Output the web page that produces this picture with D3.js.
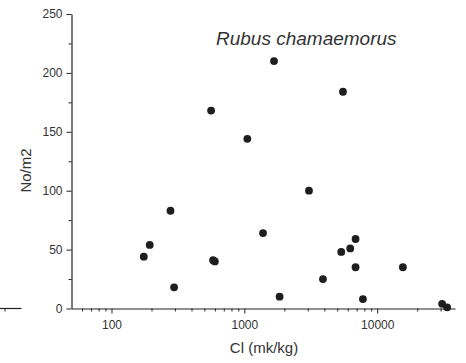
<!DOCTYPE html>
<html>
<head>
<meta charset="utf-8">
<script src="https://cdn.jsdelivr.net/npm/d3@7"></script>
<style>
  body { margin: 0; background: #fff; }
  svg { display: block; }
  text { font-family: "Liberation Sans", Arial, sans-serif; fill: #333; }
</style>
</head>
<body>
<svg id="chart" width="466" height="363"></svg>
<script>
// Data
const clValues = [175, 194, 278, 296, 582, 600, 562, 1672, 5525, 1053, 3064, 1382, 5362, 6264, 6872, 6872, 15600, 3905, 1842, 7805, 30800, 33600];
const densityValues = [44, 54, 83, 18, 41, 40, 168, 210, 184, 144, 100, 64, 48, 51, 59, 35, 35, 25, 10, 8, 4, 1];
const xMajorTicks = [100, 1000, 10000];
const xMinorTicks = [60, 70, 80, 90, 200, 300, 400, 500, 600, 700, 800, 900, 2000, 3000, 4000, 5000, 6000, 7000, 8000, 9000, 20000, 30000];
const yMajorTicks = [0, 50, 100, 150, 200, 250];
const yMinorTicks = [25, 75, 125, 175, 225];
const titleText = "Rubus chamaemorus";
const xLabel = "Cl (mk/kg)";
const yLabel = "No/m2";

const svg = d3.select("#chart");
const x = d3.scaleLog().domain([50, 38500]).range([71.5, 455]);
const y = d3.scaleLinear().domain([0, 250]).range([308.5, 14]);
const axisColor = "#222";

function styleAxis(g) {
  g.selectAll("path").attr("stroke", axisColor).attr("stroke-width", 1.2);
  g.selectAll("line").attr("stroke", axisColor).attr("stroke-width", 1);
  g.selectAll("text").attr("font-size", 12).attr("fill", "#333")
    .attr("font-family", "'Liberation Sans', Arial, sans-serif");
}

// x axis minor
svg.append("g").attr("transform", "translate(0,308.5)")
  .call(d3.axisBottom(x).tickValues(xMinorTicks).tickSize(3).tickFormat(""))
  .call(g => { styleAxis(g); g.select("path").remove(); });
// x axis major
svg.append("g").attr("transform", "translate(0,308.5)")
  .call(d3.axisBottom(x).tickValues(xMajorTicks).tickSize(5).tickSizeOuter(0).tickPadding(7).tickFormat(d3.format("d")))
  .call(styleAxis);

// y axis minor
svg.append("g").attr("transform", "translate(71.5,0)")
  .call(d3.axisLeft(y).tickValues(yMinorTicks).tickSize(3).tickFormat(""))
  .call(g => { styleAxis(g); g.select("path").remove(); });
// y axis major
svg.append("g").attr("transform", "translate(71.5,0)")
  .call(d3.axisLeft(y).tickValues(yMajorTicks).tickSize(5).tickSizeOuter(0).tickPadding(4))
  .call(styleAxis);

// fragment of neighbouring panel axis at far left
svg.append("line").attr("x1", 0).attr("x2", 21.5).attr("y1", 308.5).attr("y2", 308.5)
  .attr("stroke", axisColor).attr("stroke-width", 1.2);
svg.append("line").attr("x1", 5).attr("x2", 5).attr("y1", 308.5).attr("y2", 311.5)
  .attr("stroke", axisColor).attr("stroke-width", 1);

// points
const pts = clValues.map((v, i) => ({ x: v, y: densityValues[i] }));
svg.append("g").selectAll("circle").data(pts).join("circle")
  .attr("cx", d => x(d.x)).attr("cy", d => y(d.y)).attr("r", 3.9)
  .attr("fill", "#1e1e1e");

// title
svg.append("text").attr("x", 216).attr("y", 45)
  .attr("font-size", 19).attr("font-style", "italic").attr("fill", "#2a2a2a")
  .text(titleText);

// axis labels
svg.append("text").attr("x", 264).attr("y", 353).attr("text-anchor", "middle")
  .attr("font-size", 15).text(xLabel);
svg.append("text").attr("transform", "translate(31,170.5) rotate(-90)")
  .attr("text-anchor", "middle").attr("font-size", 15).text(yLabel);
</script>
</body>
</html>
